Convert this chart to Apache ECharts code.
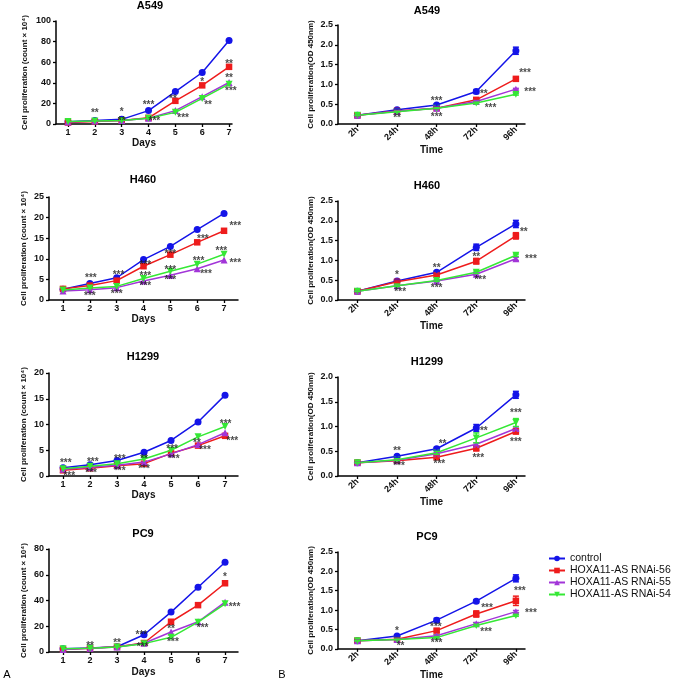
<!DOCTYPE html>
<html><head><meta charset="utf-8">
<script src="https://cdn.jsdelivr.net/npm/echarts@6/dist/echarts.min.js"></script>
<style>html,body{margin:0;padding:0;background:#fff}#c{width:675px;height:681px}</style>
</head><body><div id="c"></div>
<script>
// ---------------- DATA ----------------
const days = ['1','2','3','4','5','6','7'];
const hours = ['2h','24h','48h','72h','96h'];
const groups = ['control','HOXA11-AS RNAi-56','HOXA11-AS RNAi-55','HOXA11-AS RNAi-54'];
const cellLines = ['A549','H460','H1299','PC9'];

// Cell count (count x 10^4); rows: control, RNAi-56, RNAi-55, RNAi-54
const A549_count = [
  [2.2, 3.5, 4.5, 13.0, 31.5, 50.0, 81.0],
  [1.5, 2.5, 3.5, 6.0, 22.5, 37.5, 55.5],
  [2.0, 3.0, 3.5, 5.5, 13.0, 26.5, 40.3],
  [2.5, 3.0, 3.5, 5.5, 11.3, 24.8, 38.7]
];
const H460_count = [
  [2.6, 4.0, 5.4, 9.8, 13.0, 17.1, 21.0],
  [2.7, 3.5, 4.7, 8.2, 11.0, 14.0, 16.8],
  [2.2, 2.5, 3.0, 4.6, 6.0, 7.6, 9.7],
  [2.4, 2.9, 3.3, 5.2, 7.0, 8.7, 11.1]
];
const H1299_count = [
  [1.6, 2.2, 3.0, 4.6, 6.9, 10.5, 15.7],
  [1.1, 1.5, 2.0, 2.4, 4.4, 5.9, 7.8],
  [1.3, 1.7, 2.1, 2.7, 4.3, 6.1, 8.4],
  [1.4, 1.9, 2.4, 3.3, 5.0, 7.6, 9.6]
];
const PC9_count = [
  [2.5, 3.2, 4.1, 13.4, 31.0, 50.3, 69.7],
  [2.0, 3.0, 4.0, 7.0, 23.5, 36.4, 53.4],
  [2.0, 3.0, 3.8, 6.8, 15.5, 23.5, 38.7],
  [2.5, 3.0, 3.8, 6.5, 11.4, 23.2, 37.4]
];

// OD 450nm; rows: control, RNAi-56, RNAi-55, RNAi-54
const A549_od = [
  [0.22, 0.36, 0.48, 0.82, 1.85],
  [0.22, 0.33, 0.40, 0.61, 1.14],
  [0.22, 0.32, 0.40, 0.57, 0.88],
  [0.22, 0.31, 0.40, 0.53, 0.75]
];
const A549_odErr = [
  [0.01, 0.02, 0.03, 0.05, 0.09],
  [0.01, 0.01, 0.02, 0.02, 0.03],
  [0.01, 0.01, 0.02, 0.02, 0.02],
  [0.01, 0.01, 0.01, 0.02, 0.02]
];
const H460_od = [
  [0.22, 0.48, 0.70, 1.33, 1.92],
  [0.22, 0.46, 0.63, 0.98, 1.62],
  [0.22, 0.36, 0.48, 0.65, 1.04],
  [0.22, 0.36, 0.49, 0.70, 1.13]
];
const H460_odErr = [
  [0.01, 0.02, 0.03, 0.08, 0.09],
  [0.01, 0.02, 0.03, 0.07, 0.08],
  [0.01, 0.02, 0.02, 0.03, 0.04],
  [0.01, 0.02, 0.02, 0.03, 0.03]
];
const H1299_od = [
  [0.27, 0.40, 0.55, 0.97, 1.64],
  [0.27, 0.31, 0.38, 0.56, 0.90],
  [0.27, 0.32, 0.45, 0.64, 0.96],
  [0.27, 0.33, 0.47, 0.77, 1.08]
];
const H1299_odErr = [
  [0.01, 0.02, 0.03, 0.07, 0.07],
  [0.01, 0.02, 0.03, 0.05, 0.05],
  [0.01, 0.02, 0.02, 0.03, 0.03],
  [0.01, 0.02, 0.03, 0.10, 0.08]
];
const PC9_od = [
  [0.21, 0.33, 0.74, 1.23, 1.82],
  [0.21, 0.25, 0.47, 0.90, 1.24],
  [0.21, 0.24, 0.34, 0.65, 0.96],
  [0.21, 0.24, 0.29, 0.60, 0.86]
];
const PC9_odErr = [
  [0.01, 0.02, 0.05, 0.04, 0.09],
  [0.01, 0.02, 0.04, 0.08, 0.12],
  [0.01, 0.01, 0.02, 0.03, 0.03],
  [0.01, 0.01, 0.02, 0.02, 0.02]
];

// Significance marks: [x (category position), y (data units), text]
const A549_countSig = [
  [2, 12, '**'], [3, 13.5, '*'], [3, 5, '**'], [4, 20.6, '***'], [4.22, 4.5, '***'],
  [4.91, 26, '**'], [5.29, 7.7, '***'], [6, 42.5, '*'], [6.22, 20.6, '**'],
  [7, 59.7, '**'], [7, 46.5, '**'], [7.07, 33.5, '***']
];
const H460_countSig = [
  [2.04, 5.8, '***'], [2, 1.45, '***'], [3.07, 6.5, '***'], [3, 2.0, '***'],
  [4.07, 9.0, '***'], [4.07, 6.2, '***'], [4.07, 3.8, '***'],
  [5, 11.7, '***'], [5, 7.7, '***'], [5, 5.2, '***'],
  [6.21, 15.2, '***'], [6.05, 9.8, '***'], [6.33, 6.7, '***'],
  [7.42, 18.4, '***'], [6.9, 12.3, '***'], [7.42, 9.3, '***']
];
const H1299_countSig = [
  [1.1, 2.8, '***'], [1.23, 0.4, '***'], [2.1, 3.0, '***'], [2.04, 0.85, '***'],
  [3.1, 3.6, '***'], [3.1, 1.3, '***'], [4, 3.6, '**'], [4, 1.7, '***'],
  [5.04, 5.6, '***'], [5.1, 3.6, '***'], [5.96, 6.7, '**'], [6.26, 5.4, '***'],
  [7.02, 10.4, '***'], [7.27, 7.1, '***']
];
const PC9_countSig = [
  [2, 5.7, '**'], [3, 8.3, '**'], [3.9, 14.7, '***'], [3.95, 4.9, '***'],
  [5, 19.1, '**'], [5.07, 9.5, '***'], [6.17, 19.9, '***'], [7, 59.4, '*'], [7.35, 36.1, '***']
];
const A549_odSig = [
  [1, 0.19, '**'], [2, 0.63, '***'], [2, 0.21, '***'], [3.19, 0.8, '**'],
  [3.36, 0.44, '***'], [4.23, 1.32, '***'], [4.36, 0.86, '***']
];
const H460_odSig = [
  [1, 0.67, '*'], [1.08, 0.25, '***'], [2, 0.86, '**'], [2, 0.34, '***'],
  [3, 1.12, '**'], [3.1, 0.55, '***'], [4.2, 1.76, '**'], [4.38, 1.09, '***']
];
const H1299_odSig = [
  [1, 0.55, '**'], [1.05, 0.23, '***'], [2.15, 0.69, '**'], [2.07, 0.28, '***'],
  [3.19, 0.94, '**'], [3.05, 0.40, '***'], [4, 1.31, '***'], [4, 0.72, '***']
];
const PC9_odSig = [
  [1, 0.50, '*'], [1.09, 0.11, '**'], [1.98, 0.61, '***'], [2, 0.19, '***'],
  [3.27, 1.11, '***'], [3.25, 0.49, '***'], [4.1, 1.53, '***'], [4.38, 0.98, '***']
];

const countYMax = [100, 25, 20, 80];
const countYInt = [20, 5, 5, 20];
const odYMax = [2.5, 2.5, 2.0, 2.5];

// ---------------- STYLE / LAYOUT ----------------
const FONT = '"Liberation Sans", Arial, Helvetica, sans-serif';
const colors = ['#1414e8', '#ee1c1c', '#a235d8', '#35e835'];
const symbols = ['circle', 'rect', 'triangle', 'triangle'];
const symRot = [0, 0, 0, 180];
const symSize = [7, 6.5, 7, 7];
const TXT = '#111';

const leftGrids = [
  {left: 56, top: 21, width: 176, height: 103, xMin: 0.553, xMax: 7.11, tx: 150, ty: 6, nameGap: 27.5, xNameGap: 14},
  {left: 49, top: 197, width: 189, height: 103, xMin: 0.478, xMax: 7.52, tx: 143, ty: 180, nameGap: 21.5, xNameGap: 14},
  {left: 49, top: 373, width: 189, height: 103, xMin: 0.48, xMax: 7.48, tx: 143, ty: 357, nameGap: 21.5, xNameGap: 14},
  {left: 49, top: 549, width: 189, height: 103, xMin: 0.48, xMax: 7.48, tx: 143, ty: 534, nameGap: 21.5, xNameGap: 15}
];
const rightGrids = [
  {left: 338, top: 25, width: 187, height: 99, tx: 427, ty: 11},
  {left: 338, top: 201, width: 187, height: 99, tx: 427, ty: 186},
  {left: 338, top: 377, width: 187, height: 99, tx: 427, ty: 362},
  {left: 338, top: 552, width: 187, height: 100, tx: 427, ty: 537}
];

const countData = [A549_count, H460_count, H1299_count, PC9_count];
const countSig = [A549_countSig, H460_countSig, H1299_countSig, PC9_countSig];
const odData = [A549_od, H460_od, H1299_od, PC9_od];
const odErr = [A549_odErr, H460_odErr, H1299_odErr, PC9_odErr];
const odSig = [A549_odSig, H460_odSig, H1299_odSig, PC9_odSig];

const grids = [], xAxes = [], yAxes = [], series = [], graphics = [];

const axisLineStyle = {show: true, onZero: false, lineStyle: {color: '#000', width: 1.5}};
const tickStyle = {show: true, inside: false, length: 3, lineStyle: {color: '#000', width: 1.3}};
const tickLabel = {fontFamily: FONT, fontSize: 9, fontWeight: 'bold', color: TXT};

function titleText(x, y, text) {
  graphics.push({type: 'text', x: x, y: y, style: {text: text, align: 'center', verticalAlign: 'middle',
    font: 'bold 11px ' + FONT, fill: '#000'}});
}

function lineSeries(gi, xs, vals, k) {
  series.push({
    type: 'line', name: groups[k], xAxisIndex: gi, yAxisIndex: gi, z: 2 + k * 0.1,
    data: vals.map((v, i) => [xs[i], v]),
    symbol: symbols[k], symbolRotate: symRot[k], symbolSize: symSize[k], showSymbol: true,
    lineStyle: {color: colors[k], width: 1.5}, itemStyle: {color: colors[k]},
    emphasis: {disabled: true}, animation: false
  });
}

function sigSeries(gi, sig) {
  series.push({
    type: 'scatter', xAxisIndex: gi, yAxisIndex: gi, z: 5, clip: false, silent: true,
    symbol: 'circle', symbolSize: 1, itemStyle: {color: 'rgba(0,0,0,0)'},
    data: sig.map(s => [s[0], s[1], s[2]]),
    label: {show: true, position: 'inside', formatter: p => p.data[2], offset: [0, 2],
      fontFamily: FONT, fontSize: 10, fontWeight: 'bold', color: '#1a1a1a'},
    animation: false
  });
}

function errSeries(gi, xs, vals, errs, color) {
  const data = [];
  vals.forEach((v, i) => { if (errs[i] > 0) data.push([xs[i], v, errs[i]]); });
  series.push({
    type: 'custom', xAxisIndex: gi, yAxisIndex: gi, z: 3, silent: true, data: data,
    encode: {x: 0, y: 1},
    renderItem: (params, api) => {
      const x = api.value(0), y = api.value(1), e = api.value(2);
      const p1 = api.coord([x, y + e]), p2 = api.coord([x, y - e]);
      const w = 3, st = {stroke: color, lineWidth: 1.5};
      return {type: 'group', children: [
        {type: 'line', shape: {x1: p1[0], y1: p1[1], x2: p2[0], y2: p2[1]}, style: st},
        {type: 'line', shape: {x1: p1[0] - w, y1: p1[1], x2: p1[0] + w, y2: p1[1]}, style: st},
        {type: 'line', shape: {x1: p2[0] - w, y1: p2[1], x2: p2[0] + w, y2: p2[1]}, style: st}
      ]};
    },
    animation: false
  });
}

// Left column: cell counts
const dayX = days.map((d, i) => i + 1);
leftGrids.forEach((g, r) => {
  const gi = grids.length;
  grids.push({left: g.left, top: g.top, width: g.width, height: g.height, containLabel: false});
  xAxes.push({
    type: 'value', gridIndex: gi, min: g.xMin, max: g.xMax,
    name: 'Days', nameLocation: 'middle', nameGap: g.xNameGap,
    nameTextStyle: {fontFamily: FONT, fontSize: 10, fontWeight: 'bold', color: TXT, verticalAlign: 'top'},
    axisLine: axisLineStyle, axisTick: Object.assign({customValues: dayX}, tickStyle),
    axisLabel: Object.assign({customValues: dayX, margin: 4, formatter: v => days[Math.round(v) - 1]}, tickLabel),
    splitLine: {show: false}
  });
  yAxes.push({
    type: 'value', gridIndex: gi, min: 0, max: countYMax[r], interval: countYInt[r],
    name: 'Cell proliferation (count × 10⁴)', nameLocation: 'middle', nameGap: g.nameGap,
    nameTextStyle: {fontFamily: FONT, fontSize: 8, fontWeight: 'bold', color: TXT},
    axisLine: axisLineStyle, axisTick: tickStyle,
    axisLabel: Object.assign({margin: 5}, tickLabel), splitLine: {show: false}
  });
  countData[r].forEach((vals, k) => lineSeries(gi, dayX, vals, k));
  sigSeries(gi, countSig[r]);
  titleText(g.tx, g.ty, cellLines[r]);
});

// Right column: OD 450nm
const hourX = hours.map((h, i) => i);
rightGrids.forEach((g, r) => {
  const gi = grids.length;
  grids.push({left: g.left, top: g.top, width: g.width, height: g.height, containLabel: false});
  xAxes.push({
    type: 'value', gridIndex: gi, min: -0.49, max: 4.23,
    name: 'Time', nameLocation: 'middle', nameGap: 20,
    nameTextStyle: {fontFamily: FONT, fontSize: 10, fontWeight: 'bold', color: TXT, verticalAlign: 'top'},
    axisLine: axisLineStyle, axisTick: Object.assign({customValues: hourX}, tickStyle),
    axisLabel: Object.assign({customValues: hourX, margin: 4, rotate: 45, formatter: v => hours[Math.round(v)]}, tickLabel),
    splitLine: {show: false}
  });
  yAxes.push({
    type: 'value', gridIndex: gi, min: 0, max: odYMax[r], interval: 0.5,
    name: 'Cell proliferation(OD 450nm)', nameLocation: 'middle', nameGap: 23.5,
    nameTextStyle: {fontFamily: FONT, fontSize: 8, fontWeight: 'bold', color: TXT},
    axisLine: axisLineStyle, axisTick: tickStyle,
    axisLabel: Object.assign({margin: 5, formatter: v => v.toFixed(1)}, tickLabel), splitLine: {show: false}
  });
  odData[r].forEach((vals, k) => {
    lineSeries(gi, hourX, vals, k);
    errSeries(gi, hourX, vals, odErr[r][k], colors[k]);
  });
  sigSeries(gi, odSig[r]);
  titleText(g.tx, g.ty, cellLines[r]);
});

graphics.push({type: 'text', x: 7, y: 675, style: {text: 'A', align: 'center', verticalAlign: 'middle', font: '11px ' + FONT, fill: '#000'}});
graphics.push({type: 'text', x: 282, y: 675, style: {text: 'B', align: 'center', verticalAlign: 'middle', font: '11px ' + FONT, fill: '#000'}});

const chart = echarts.init(document.getElementById('c'), null, {renderer: 'canvas'});
chart.setOption({
  backgroundColor: '#fff',
  animation: false,
  legend: {
    data: groups, orient: 'vertical', left: 548, top: 553,
    itemWidth: 16, itemHeight: 7, itemGap: 1, padding: 0, selectedMode: false,
    textStyle: {fontFamily: FONT, fontSize: 10.5, color: '#111', lineHeight: 11}
  },
  grid: grids, xAxis: xAxes, yAxis: yAxes, series: series, graphic: graphics
});
</script></body></html>
